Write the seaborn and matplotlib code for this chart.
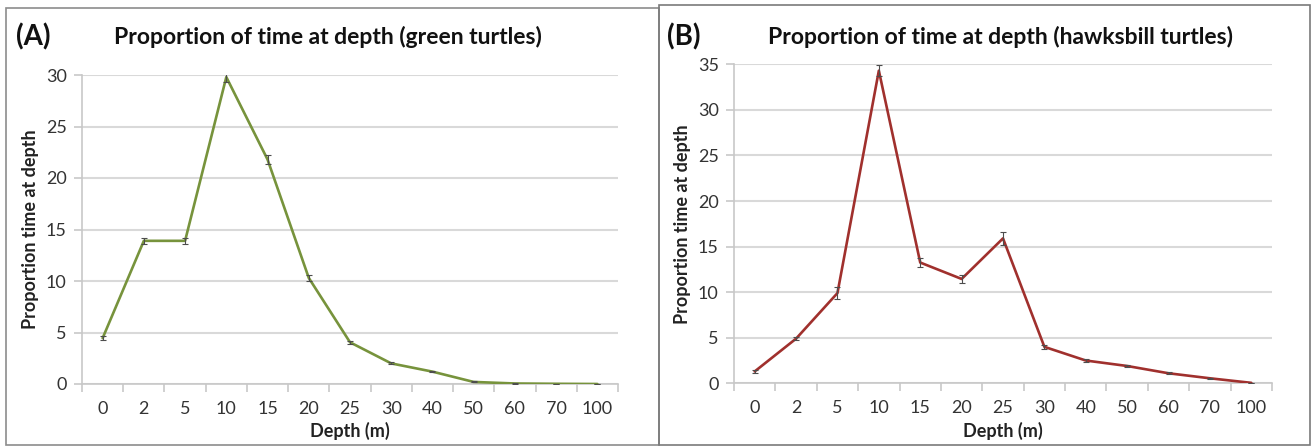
import matplotlib
matplotlib.use("Agg")
import matplotlib.pyplot as plt
from matplotlib.patches import Rectangle
from matplotlib.ticker import FixedLocator, MultipleLocator
import seaborn as sns
import pandas as pd
import numpy as np

# ---- data ----
depths = ["0", "2", "5", "10", "15", "20", "25", "30", "40", "50", "60", "70", "100"]
green_vals = [4.45, 13.9, 13.9, 29.8, 21.8, 10.3, 4.05, 2.0, 1.2, 0.2, 0.05, 0.02, 0.0]
green_err = [0.2, 0.3, 0.3, 0.45, 0.45, 0.3, 0.15, 0.1, 0.08, 0.05, 0.02, 0.02, 0.0]
hawk_vals = [1.3, 4.9, 9.9, 34.3, 13.25, 11.45, 15.9, 4.0, 2.5, 1.9, 1.1, 0.55, 0.05]
hawk_err = [0.15, 0.2, 0.65, 0.6, 0.5, 0.45, 0.75, 0.25, 0.2, 0.12, 0.1, 0.05, 0.0]

green_color = "#77933C"
hawk_color = "#A0302D"

sns.set_theme(style="white")
plt.rcParams["font.family"] = ["Lato", "DejaVu Sans"]

fig = plt.figure(figsize=(13.12, 4.47), dpi=100)
W, H = 1312, 447

def px_axes(x0, x1, ytop, ybot):
    return fig.add_axes([x0 / W, (H - ybot) / H, (x1 - x0) / W, (ybot - ytop) / H])

# panel boxes
fig.patches.append(Rectangle((6 / W, 2 / H), (659 - 6) / W, (439 - 2) / H,
                             transform=fig.transFigure, fill=False,
                             edgecolor="#8c8c8c", lw=1.2))
fig.patches.append(Rectangle((659 / W, 2 / H), (1310 - 659) / W, (442 - 2) / H,
                             transform=fig.transFigure, fill=False,
                             edgecolor="#7a7a7a", lw=1.2))

def draw_panel(ax, vals, errs, color, ymax, label, title, title_x, letter_x):
    df = pd.DataFrame({"Depth": depths, "Value": vals})
    df["pos"] = np.arange(len(depths))
    sns.lineplot(data=df, x="pos", y="Value", ax=ax, color=color, lw=1.9,
                 sort=False, zorder=3)
    ax.errorbar(df["pos"], df["Value"], yerr=errs, fmt="none",
                ecolor="#4d4d4d", elinewidth=0.8, capsize=2.2, capthick=0.8,
                zorder=4)
    ax.set_xlim(-0.5, len(depths) - 0.5)
    ax.set_ylim(0, ymax)
    ax.yaxis.set_major_locator(MultipleLocator(5))
    ax.grid(axis="y", color="#d9d9d9", lw=1.5)
    ax.set_axisbelow(True)
    ax.set_xticks(df["pos"])
    ax.set_xticklabels(depths)
    ax.xaxis.set_minor_locator(FixedLocator(np.arange(-0.5, len(depths), 1.0)))
    ax.tick_params(axis="x", which="major", length=0, pad=12, labelsize=13,
                   labelcolor="#333333")
    ax.tick_params(axis="x", which="minor", length=6, width=1.2,
                   color="#c8c8c8", direction="out", bottom=True)
    ax.tick_params(axis="y", which="major", length=6, width=1.2,
                   color="#c8c8c8", direction="out", left=True, pad=5,
                   labelsize=13, labelcolor="#333333")
    for s in ["top", "right"]:
        ax.spines[s].set_visible(False)
    for s in ["left", "bottom"]:
        ax.spines[s].set_color("#c8c8c8")
        ax.spines[s].set_linewidth(1.2)
    ax.set_xlabel("Depth (m)", fontsize=13, fontweight="bold", labelpad=4,
                  color="#222222")
    ax.set_ylabel("Proportion time at depth", fontsize=13, fontweight="bold",
                  labelpad=5, color="#222222")
    fig.text(title_x / W, (H - 37) / H, title, ha="center", va="center",
             fontsize=16.5, fontweight="bold", color="#111111")
    fig.text(letter_x / W, (H - 37) / H, label, ha="left", va="center",
             fontsize=20, fontweight="bold", color="#111111")

axA = px_axes(82, 618, 75, 384)
draw_panel(axA, green_vals, green_err, green_color, 30, "(A)",
           "Proportion of time at depth (green turtles)", 328, 16)

axB = px_axes(734, 1272, 64.3, 383.3)
draw_panel(axB, hawk_vals, hawk_err, hawk_color, 35, "(B)",
           "Proportion of time at depth (hawksbill turtles)", 1000, 667)

fig.savefig("out.png", dpi=100)
